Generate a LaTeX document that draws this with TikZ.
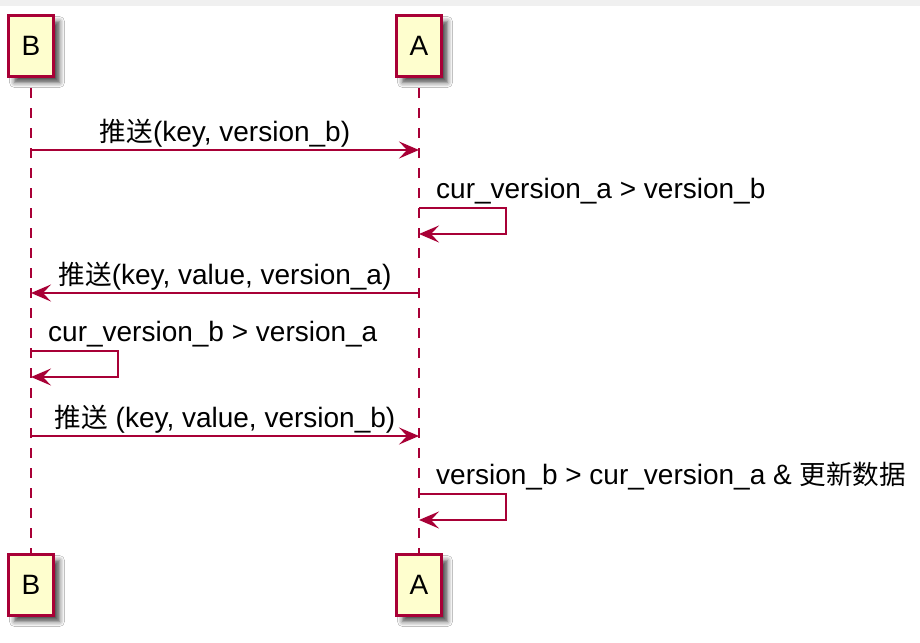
\documentclass[tikz,border=0pt]{standalone}
\usepackage{fontspec}
\setmainfont{Liberation Sans}
\newfontfamily\cjk[Scale=0.95]{Noto Sans CJK SC}
\usetikzlibrary{arrows.meta,shadows.blur}

\definecolor{umlred}{HTML}{A80036}
\definecolor{umlfill}{HTML}{FEFECE}

\tikzstyle{actor}=[draw=umlred, fill=umlfill, line width=3pt, minimum width=45pt, minimum height=61pt, inner sep=0pt, font=\fontsize{28}{34}\selectfont, blur shadow={shadow xshift=6pt, shadow yshift=-6pt, shadow opacity=70, shadow blur radius=5pt}]
\tikzstyle{lifeline}=[umlred, line width=2pt, dash pattern=on 10pt off 10pt, dash phase=10pt]
\tikzstyle{msg}=[umlred, line width=1.8pt, -{Stealth[length=20pt, width=17pt, inset=8pt]}]
\tikzstyle{lbl}=[inner sep=0pt, text=black, font=\fontsize{28}{34}\selectfont]

\begin{document}
\begin{tikzpicture}[x=1pt, y=-1pt]
      \useasboundingbox (0,0) rectangle (920,642);
      \fill[white] (0,0) rectangle (920,642);
      \fill[black!6] (0,0) rectangle (920,6);

      \node[actor] (bTop) at (31,46) {B};
      \node[actor] (aTop) at (419,46) {A};
      \node[actor] (bBot) at (31,585) {B};
      \node[actor] (aBot) at (419,585) {A};

      \draw[lifeline] (bTop) -- (bBot);
      \draw[lifeline] (aTop) -- (aBot);

      \coordinate (b1) at (31,150);
      \coordinate (a1) at (419,150);
      \coordinate (a2) at (419,208);
      \coordinate (a2e) at (419,234);
      \coordinate (a3) at (419,293);
      \coordinate (b3) at (31,293);
      \coordinate (b4) at (31,351);
      \coordinate (b4e) at (31,377);
      \coordinate (b5) at (31,436);
      \coordinate (a5) at (419,436);
      \coordinate (a6) at (419,494);
      \coordinate (a6e) at (419,520);

      \draw[msg] (b1) -- node[lbl, anchor=base, yshift=9pt] (m1) {{\cjk 推送}(key, version\_b)} (a1);
      \draw[msg] (a2) -- ++(87,0) |- (a2e);
      \node[lbl, anchor=base west] (m2) at (436,198) {cur\_version\_a > version\_b};
      \draw[msg] (a3) -- node[lbl, anchor=base, yshift=9pt] (m3) {{\cjk 推送}(key, value, version\_a)} (b3);
      \draw[msg] (b4) -- ++(87,0) |- (b4e);
      \node[lbl, anchor=base west] (m4) at (48,341) {cur\_version\_b > version\_a};
      \draw[msg] (b5) -- node[lbl, anchor=base, yshift=9pt] (m5) {{\cjk 推送} (key, value, version\_b)} (a5);
      \draw[msg] (a6) -- ++(87,0) |- (a6e);
      \node[lbl, anchor=base west] (m6) at (436,484) {version\_b > cur\_version\_a \& {\cjk 更新数据}};
    \end{tikzpicture}
\end{document}
